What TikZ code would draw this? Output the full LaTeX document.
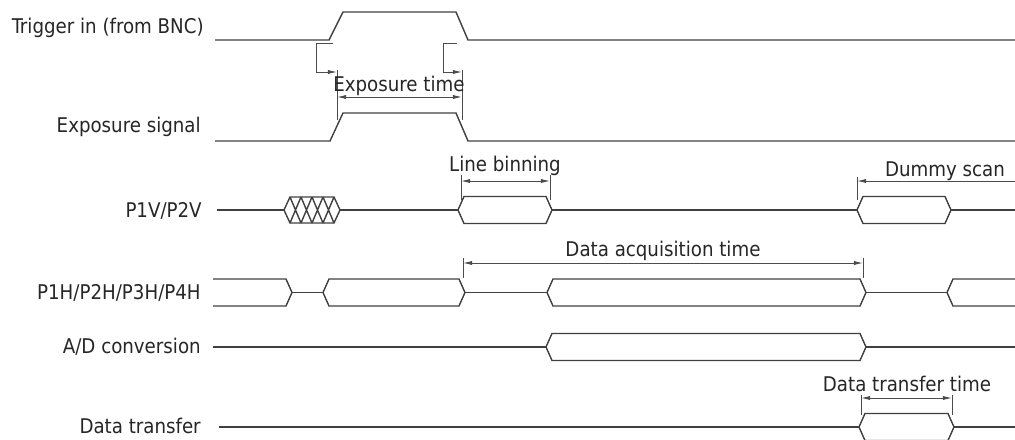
\documentclass[tikz,border=0pt]{standalone}
\usepackage{fontspec}
\setmainfont{DejaVu Sans Condensed}
\usetikzlibrary{arrows.meta}

\tikzset{
  sig/.style={draw=black!75, line width=1pt},
  dimln/.style={draw=black!70, line width=0.65pt},
  tip/.style={dimln, -{Latex[length=6.5pt,width=3pt]}},
  dimarr/.style={dimln, {Latex[length=6.5pt,width=3pt]}-{Latex[length=6.5pt,width=3pt]}},
  txt/.style={inner sep=0pt, text=black!85, font=\fontsize{14.4}{17}\selectfont},
  rowname/.style={txt, anchor=base east}
}
\newcommand{\busseg}[3]{%
  \draw [sig] (#1,#3) -- (#1+6,#3-13.5) -- (#2-6,#3-13.5) -- (#2,#3) -- (#2-6,#3+13.5) -- (#1+6,#3+13.5) -- cycle;}

\begin{document}
\begin{tikzpicture}[x=0.025cm, y=-0.025cm]
	\useasboundingbox (0,0) rectangle (1015,440);

	\node [rowname] at (204,34) (trig) {Trigger in (from BNC)};
	\node [rowname] at (201,133) (expo) {Exposure signal};
	\node [rowname] at (202,217) (pv) {P1V/P2V};
	\node [rowname] at (201,299) (ph) {P1H/P2H/P3H/P4H};
	\node [rowname] at (201,353) (adc) {A/D conversion};
	\node [rowname] at (201,433) (dtx) {Data transfer};

	\draw [sig] (215,40) -- (329,40) -- (343,12) -- (456,12) -- (468,40) -- (1015,40);
	\draw [sig] (215,141) -- (330,141) -- (343,113) -- (456,113) -- (468,141) -- (1015,141);

	\coordinate (exl) at (337,97);
	\coordinate (exr) at (462,97);
	\draw [tip] (333,43) -- (316,43) -- (316,72) -- (337,72);
	\draw [tip] (457,43) -- (443,43) -- (443,72) -- (462,72);
	\draw [dimln] (337,70) -- (337,120) (462,70) -- (462,120);
	\draw [dimarr] (exl) -- (exr);
	\node [txt, anchor=base] at (399,92) (exlbl) {Exposure time};

	\draw [sig] (217,210) -- (284,210) (340,210) -- (458,210) (552,210) -- (857,210) (951,210) -- (1015,210);
	\draw [sig] (284,210) -- (290,197) -- (334,197) -- (340,210) -- (334,223) -- (290,223) -- cycle;
	\foreach \a in {290,301,312,323}
	  \draw [sig] (\a,197) -- (\a+11,223) (\a,223) -- (\a+11,197);
	\busseg{458}{552}{210}
	\busseg{857}{951}{210}

	\coordinate (lbl) at (461,181);
	\coordinate (lbr) at (550,181);
	\draw [dimln] (461,175) -- (461,200) (550,175) -- (550,200);
	\draw [dimarr] (lbl) -- (lbr);
	\node [txt, anchor=base] at (505,172) (lblbl) {Line binning};

	\coordinate (dsl) at (857,181);
	\coordinate (dsr) at (1015,181);
	\draw [dimln] (857,177) -- (857,200);
	\draw [tip] (dsr) -- (dsl);
	\node [txt, anchor=base] at (945,176) (dslbl) {Dummy scan};

	\draw [sig] (213,279) -- (286,279) -- (292,292.5) -- (286,306) -- (213,306);
	\draw [sig] (292,292.5) -- (323,292.5) (465,292.5) -- (547,292.5) (866,292.5) -- (947,292.5);
	\busseg{323}{465}{292.5}
	\busseg{547}{866}{292.5}
	\draw [sig] (1015,279) -- (953,279) -- (947,292.5) -- (953,306) -- (1015,306);

	\coordinate (dal) at (463,263);
	\coordinate (dar) at (863,263);
	\draw [dimln] (463,258) -- (463,278) (863,258) -- (863,278);
	\draw [dimarr] (dal) -- (dar);
	\node [txt, anchor=base] at (663,256) (dalbl) {Data acquisition time};

	\draw [sig] (213,347) -- (546,347) (866,347) -- (1015,347);
	\busseg{546}{866}{347}

	\draw [sig] (219,427) -- (859,427) (954,427) -- (1015,427);
	\busseg{859}{954}{427}

	\coordinate (dtl) at (861,398);
	\coordinate (dtr) at (952,398);
	\draw [dimln] (861,395) -- (861,415) (952,395) -- (952,415);
	\draw [dimarr] (dtl) -- (dtr);
	\node [txt, anchor=base] at (907,391) (dtlbl) {Data transfer time};

\end{tikzpicture}
\end{document}
